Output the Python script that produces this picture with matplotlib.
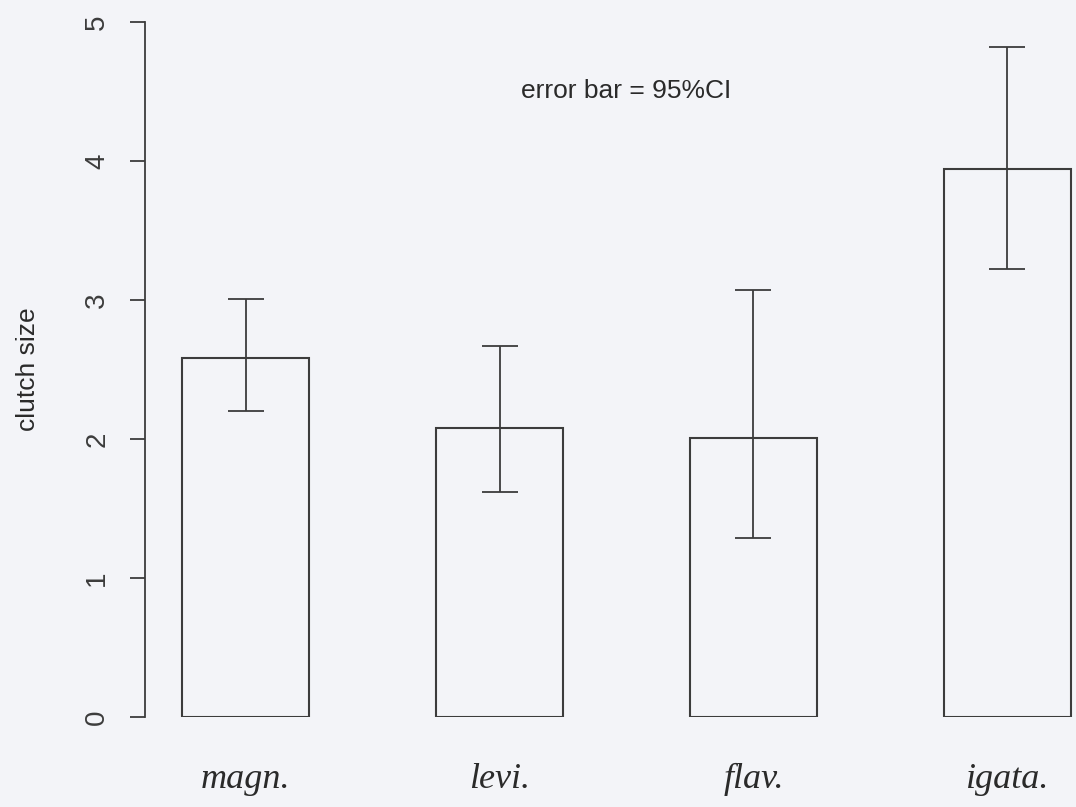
import numpy as np
import matplotlib
matplotlib.use("Agg")
import matplotlib.pyplot as plt

# values
species = ["magn.", "levi.", "flav.", "igata."]
clutch_mean = [2.58, 2.08, 2.01, 3.94]
ci_lower = [2.20, 1.62, 1.29, 3.22]
ci_upper = [3.01, 2.67, 3.07, 4.82]
y_ticks = [0, 1, 2, 3, 4, 5]

bg = "#f3f4f8"
ink = "#3c3c3c"

def main():
    fig = plt.figure(figsize=(10.76, 8.07), dpi=100, facecolor=bg)
    ax = fig.add_axes([145 / 1076, 90 / 807, 931 / 1076, 695 / 807])
    ax.set_facecolor(bg)

    x = np.arange(len(species))
    mean = np.array(clutch_mean)
    yerr = [mean - np.array(ci_lower), np.array(ci_upper) - mean]

    ax.bar(x, mean, width=0.5, color=bg, edgecolor=ink, linewidth=1.5)
    ax.errorbar(x, mean, yerr=yerr, fmt="none", ecolor=ink, elinewidth=1.3,
                capsize=13, capthick=1.3)

    ax.set_xlim(-0.396, 3.27)
    ax.set_ylim(0, 5)

    for side in ["top", "right", "bottom"]:
        ax.spines[side].set_visible(False)
    ax.spines["left"].set_color(ink)
    ax.spines["left"].set_linewidth(1.3)
    ax.spines["left"].set_bounds(0, 5)

    ax.set_yticks(y_ticks)
    ax.set_yticklabels([str(t) for t in y_ticks], rotation=90, va="center",
                       fontsize=20, family="Liberation Sans", color=ink)
    ax.tick_params(axis="y", length=11, width=1.3, color=ink, pad=14)

    ax.set_xticks(x)
    ax.set_xticklabels(species, fontsize=26, family="Liberation Serif",
                       style="italic", color="#2a2a2a")
    ax.tick_params(axis="x", length=0, pad=33)

    ax.set_ylabel("clutch size", fontsize=19, family="Liberation Sans",
                  color="#2a2a2a", labelpad=32)

    ax.text(1.5, 4.5, "error bar = 95%CI", ha="center", va="center",
            fontsize=19, family="Liberation Sans", color="#2a2a2a")

    fig.savefig("out.png", dpi=100, facecolor=bg)
    plt.close(fig)

if __name__ == "__main__":
    main()
